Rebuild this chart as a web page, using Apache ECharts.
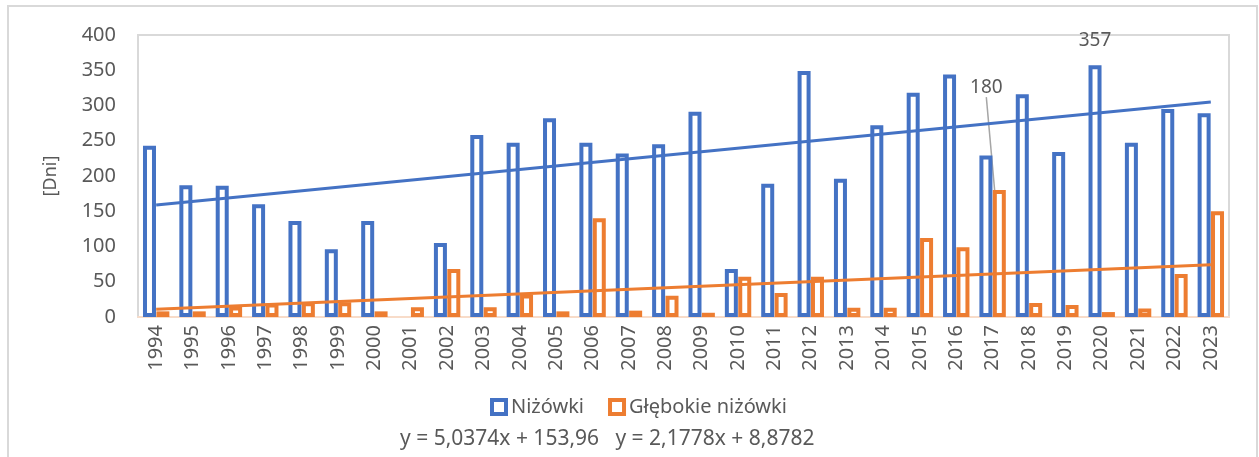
<!DOCTYPE html>
<html>
<head>
<meta charset="utf-8">
<script src="https://cdn.jsdelivr.net/npm/echarts@6/dist/echarts.min.js"></script>
<style>html,body{margin:0;padding:0;background:#fff}#c{width:1259px;height:457px}</style>
</head>
<body>
<div id="c"></div>
<script>
const years = ['1994','1995','1996','1997','1998','1999','2000','2001','2002','2003','2004','2005','2006','2007','2008','2009','2010','2011','2012','2013','2014','2015','2016','2017','2018','2019','2020','2021','2022','2023'];
const nizowki = [243,187,186,160,136,96,136,0,105,258,247,282,247,232,245,291,68,189,349,196,272,318,344,229,316,234,357,247,295,289];
const glebokie = [8,8,15,19,21,21,8,14,68,14,32,8,140,9,30,6,57,34,57,13,13,112,99,180,20,17,7,12,61,150];
const trendNizowki = [159, 305];   // trend line values at first and last year
const trendGlebokie = [11, 74];
const yTicks = [0, 50, 100, 150, 200, 250, 300, 350, 400];
const equationText = 'y = 5,0374x + 153,96   y = 2,1778x + 8,8782';

const BLUE = '#4472C4', ORANGE = '#ED7D31', GRAY = '#595959';
const FONT = 'Noto Sans';

const chart = echarts.init(document.getElementById('c'), null, {renderer: 'canvas'});
chart.setOption({
  animation: false,
  textStyle: {fontFamily: FONT},
  grid: {left: 138, right: 30, top: 35, bottom: 140, show: true, borderColor: '#d9d9d9', borderWidth: 2, backgroundColor: 'transparent'},
  graphic: [
    {type: 'rect', shape: {x: 8, y: 6, width: 1249, height: 470}, style: {fill: 'none', stroke: '#d9d9d9', lineWidth: 2}, silent: true, z: -10},
    {type: 'text', left: 400, top: 429, style: {text: equationText, fill: GRAY, font: '21px "Noto Sans"'}}
  ],
  legend: {
    top: 392, left: 485, itemWidth: 14, itemHeight: 14, itemGap: 24,
    textStyle: {color: GRAY, fontSize: 20, fontFamily: FONT},
    data: [
      {name: 'Niżówki', icon: 'rect', itemStyle: {color: '#fff', borderColor: BLUE, borderWidth: 4}},
      {name: 'Głębokie niżówki', icon: 'rect', itemStyle: {color: '#fff', borderColor: ORANGE, borderWidth: 4}}
    ]
  },
  xAxis: {
    type: 'category', data: years,
    axisLine: {show: true, lineStyle: {color: '#f8dcc9', width: 2}},
    axisTick: {show: false},
    axisLabel: {rotate: 90, color: GRAY, fontSize: 20, margin: 8, fontFamily: FONT}
  },
  yAxis: {
    type: 'value', min: yTicks[0], max: yTicks[yTicks.length - 1], interval: yTicks[1] - yTicks[0],
    name: '[Dni]', nameLocation: 'middle', nameRotate: 90, nameGap: 78,
    nameTextStyle: {color: GRAY, fontSize: 18, fontFamily: FONT},
    axisLine: {show: false}, axisTick: {show: false}, splitLine: {show: false},
    axisLabel: {color: GRAY, fontSize: 20, margin: 22, fontFamily: FONT}
  },
  series: [
    {
      name: 'Niżówki', type: 'bar', barWidth: 13, barGap: '3%',
      itemStyle: {color: '#fff', borderColor: BLUE, borderWidth: 4},
      data: nizowki.map((v, i) => {
        if (v === 0) return '-';
        if (years[i] === '2020') return {value: v, label: {show: true, position: 'top', distance: 15, color: GRAY, fontSize: 19, fontFamily: FONT}};
        return v;
      }),
      z: 3
    },
    {
      name: 'Głębokie niżówki', type: 'bar', barWidth: 13, barGap: '3%',
      itemStyle: {color: '#fff', borderColor: ORANGE, borderWidth: 4},
      data: glebokie.map((v, i) => {
        if (years[i] === '2017') return {value: v, label: {show: true, position: 'top', distance: 5, color: GRAY, fontSize: 19, fontFamily: FONT}};
        return v;
      }),
      labelLayout: {dx: -13, dy: -88},
      labelLine: {show: true, lineStyle: {color: '#a6a6a6', width: 1.5}},
      z: 3
    },
    {
      name: 'trendN', type: 'line', symbol: 'none', silent: true,
      lineStyle: {color: BLUE, width: 3},
      data: [[years[0], trendNizowki[0]], [years[years.length - 1], trendNizowki[1]]],
      z: 4
    },
    {
      name: 'trendG', type: 'line', symbol: 'none', silent: true,
      lineStyle: {color: ORANGE, width: 3},
      data: [[years[0], trendGlebokie[0]], [years[years.length - 1], trendGlebokie[1]]],
      z: 4
    }
  ]
});
</script>
</body>
</html>
